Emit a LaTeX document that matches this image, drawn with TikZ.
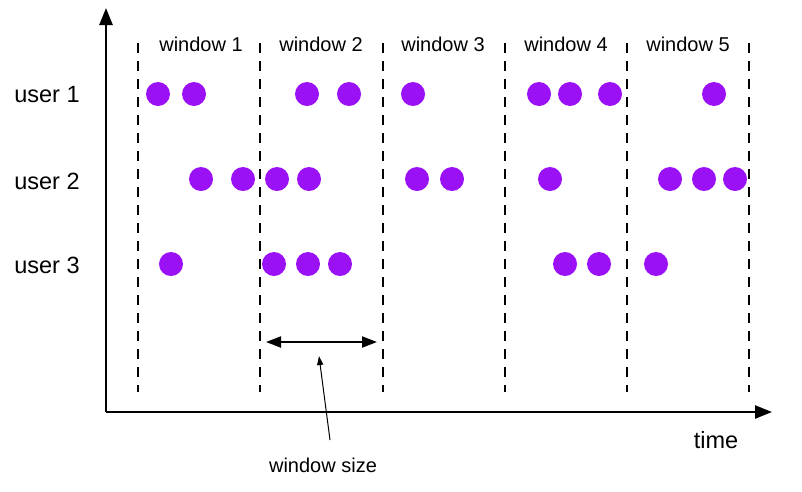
\documentclass[tikz,border=0pt]{standalone}
\usepackage{fontspec}
\setmainfont{Liberation Sans}
\usetikzlibrary{arrows.meta,positioning}
\definecolor{eventviolet}{RGB}{155,17,245}

\begin{document}
\begin{tikzpicture}[x=1pt,y=-1pt,
  event/.style={circle,fill=eventviolet,inner sep=0pt,minimum size=24pt},
  border/.style={line width=2.5pt,dash pattern=on 9.5pt off 8.5pt},
  axis/.style={line width=2.5pt,-{Triangle[length=17pt,width=13pt]}},
  winlabel/.style={font=\fontsize{20}{24}\selectfont},
  userlabel/.style={font=\fontsize{23.5}{28}\selectfont}]
\useasboundingbox (0,0) rectangle (802,491);
% axes
\coordinate (O) at (106,412);
\coordinate (ytop) at (106,8);
\coordinate (xend) at (772,412);
\draw[axis] (O) -- (ytop);
\draw[axis] (O) -- (xend);
\node[userlabel] (time) at (716,440) {time};
% window borders and labels
\foreach \x [count=\i] in {138,260,383,505,627,749}
  \draw[border] (\x,43) coordinate (top\i) -- (\x,392) coordinate (bot\i);
\foreach \x [count=\i] in {201,321,443,566,688}
  \node[winlabel] (win\i) at (\x,44) {window \i};
% users
\node[userlabel] (user1) at (47,95) {user 1};
\node[userlabel] (user2) at (47,181) {user 2};
\node[userlabel] (user3) at (47,265) {user 3};
% events
\foreach \x in {158,194,307,349,413,539,570,610,714}
  \node[event] (e1-\x) at (\x,94) {};
\foreach \x in {201,243,277,309,417,452,550,670,704,735}
  \node[event] (e2-\x) at (\x,179) {};
\foreach \x in {171,274,308,340,565,599,656}
  \node[event] (e3-\x) at (\x,264) {};
% window size
\coordinate (wsleft) at (266,342);
\coordinate (wsright) at (377,342);
\draw[line width=2pt,{Triangle[length=15pt,width=11pt]}-{Triangle[length=15pt,width=11pt]}] (wsleft) -- (wsright);
\node[winlabel] (wsize) at (323,465) {window size};
\coordinate (wstail) at (330,440);
\coordinate (wstip) at (319,356);
\draw[line width=1pt,-{Triangle[length=9pt,width=6pt]}] (wstail) -- (wstip);
\end{tikzpicture}
\end{document}
